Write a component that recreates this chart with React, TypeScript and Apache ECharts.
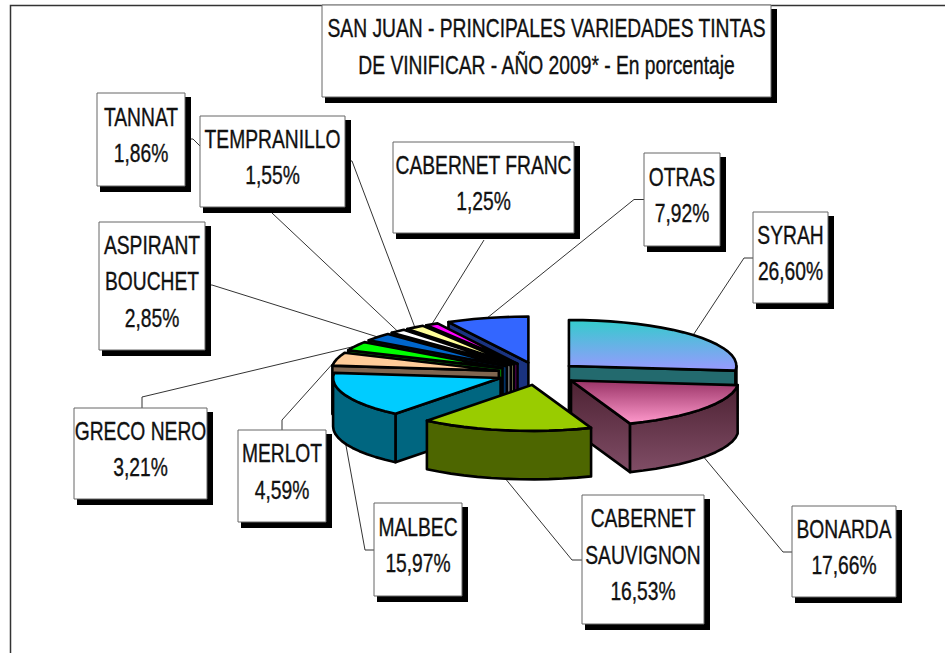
import React, { useEffect, useRef } from "react";
import * as echarts from "echarts";

const TITLE_TEXT = "SAN JUAN - PRINCIPALES VARIEDADES TINTAS\nDE VINIFICAR - AÑO 2009* - En porcentaje";
const VARIETIES = ["SYRAH", "BONARDA", "CABERNET\nSAUVIGNON", "MALBEC", "MERLOT", "GRECO NERO", "ASPIRANT\nBOUCHET", "TEMPRANILLO", "TANNAT", "CABERNET FRANC", "OTRAS"];
const SHARES = [26.6, 17.66, 16.53, 15.97, 4.59, 3.21, 2.85, 1.55, 1.86, 1.25, 7.92];

// styles, one per variety
const TOP_FILLS: any[] = [
  { c: ["#33cccc", "#9999ff"] }, { c: ["#993366", "#ff99cc"] }, "#99cc00", "#00ccff", "#ffcc99", "#00ff00", "#0066cc", "#ffffff", "#ffff99", "#ff00ff", "#3366ff",
];
const WALL_FILLS: any[] = [
  "#236a6e", { c: ["#4d2233", "#804d66"] }, "#4d6600", "#006680", "#806650", "#008000", "#003366", "#808080", "#80804d", "#800080", "#1a3380",
];

// layout: [x1, y1, x2, y2] of each label box, elbow points of each leader
const BOXES = [
  [753, 212, 828, 303], [792, 506, 896, 597], [582, 495, 704, 624], [374, 503, 462, 596], [238, 430, 326, 522], [74, 408, 207, 499],
  [99, 222, 205, 350], [200, 116, 345, 207], [97, 93, 185, 186], [393, 142, 574, 233], [644, 153, 720, 246],
];
const TITLE_BOX = [322, 5, 771, 97];
const ELBOWS = [
  [[753, 258], [744, 258]], [[792, 552], [783, 552]], [[582, 560], [572, 560]], [[374, 550], [365, 550]], [[282, 430], [282, 420]], [[142, 408], [142, 397]],
  [[205, 285], [212, 285]], [[272, 213]], [[185, 139], [193, 139], [200, 146], [352, 161]], [[484, 240]], [[644, 199.5], [634, 199.5]],
];

const CX = 538.5, CY = 373.6, RX = 167.5, RY = 46, DEPTH = 48.5, EX = 41, EY = 11.4;
const FONT = '"Liberation Sans", Arial, sans-serif';
const NARROW = 0.77;
const rad = (a: number) => (a * Math.PI) / 180;

const total = SHARES.reduce((s, v) => s + v, 0);
let acc = 0;
const SLICES = SHARES.map((v, i) => {
  const a0 = (acc / total) * 360;
  acc += v;
  const a1 = (acc / total) * 360;
  const mid = (a0 + a1) / 2;
  return { i, a0, a1, mid, ax: CX + EX * Math.sin(rad(mid)), ay: CY - EY * Math.cos(rad(mid)) };
});
const DRAW_ORDER = [...SLICES].sort((p, q) => p.ay - q.ay);

const rim = (s: any, a: number, drop = 0): number[] => [s.ax + RX * Math.sin(rad(a)), s.ay - RY * Math.cos(rad(a)) + drop];
const arc = (s: any, from: number, to: number, drop = 0) => {
  const n = Math.max(1, Math.ceil((to - from) / 5));
  const out: number[][] = [];
  for (let k = 0; k <= n; k++) out.push(rim(s, from + ((to - from) * k) / n, drop));
  return out;
};
const fill = (f: any) =>
  typeof f === "string"
    ? f
    : { type: "linear", x: 0, y: 0, x2: 0, y2: 1, global: false, colorStops: [{ offset: 0, color: f.c[0] }, { offset: 1, color: f.c[1] }] };
const edge = { stroke: "#000", lineWidth: 2.6, lineJoin: "round" };

function sliceShape(s: any) {
  const wall = fill(WALL_FILLS[s.i]);
  const kids: any[] = [];
  const radial = (a: number) => {
    const p = rim(s, a);
    kids.push({
      type: "polygon",
      shape: { points: [[s.ax, s.ay], p, [p[0], p[1] + DEPTH], [s.ax, s.ay + DEPTH]] },
      style: { fill: wall, ...edge },
    });
  };
  if (Math.sin(rad(s.a0)) < -1e-6) radial(s.a0);
  if (Math.sin(rad(s.a1)) > 1e-6) radial(s.a1);
  const from = Math.max(s.a0, 90), to = Math.min(s.a1, 270);
  if (to > from) {
    kids.push({
      type: "polygon",
      shape: { points: [...arc(s, from, to), ...arc(s, from, to, DEPTH).reverse()] },
      style: { fill: wall, ...edge },
    });
  }
  kids.push({
    type: "polygon",
    shape: { points: [[s.ax, s.ay], ...arc(s, s.a0, s.a1)] },
    style: { fill: fill(TOP_FILLS[s.i]), ...edge },
  });
  return { type: "group", children: kids };
}

function leaderShape(s: any) {
  const front = s.mid > 90 && s.mid < 270;
  const end = rim(s, s.mid, front ? DEPTH : 0);
  return {
    type: "polyline",
    shape: { points: [...ELBOWS[s.i], end] },
    style: { fill: "none", stroke: "#333", lineWidth: 1 },
  };
}

function boxShape(box: number[], text: string) {
  const [x1, y1, x2, y2] = box;
  return {
    type: "group",
    children: [
      { type: "rect", shape: { x: x1 + 3, y: y1 + 4, width: x2 - x1 + 3, height: y2 - y1 + 2 }, style: { fill: "#000" } },
      { type: "rect", shape: { x: x1, y: y1, width: x2 - x1, height: y2 - y1 }, style: { fill: "#fff", stroke: "#666", lineWidth: 1 } },
      {
        type: "text",
        x: (x1 + x2) / 2,
        y: (y1 + y2) / 2 - 4,
        scaleX: NARROW,
        style: {
          text, x: 0, y: 0, align: "center", verticalAlign: "middle",
          font: `25px ${FONT}`, fill: "#111", stroke: "#111", lineWidth: 0.35, lineHeight: 36.5,
        },
      },
    ],
  };
}
const labelText = (i: number) => `${VARIETIES[i]}\n${SHARES[i].toFixed(2).replace(".", ",")}%`;

export default function App() {
  const ref = useRef<HTMLDivElement>(null);
  useEffect(() => {
    const chart = echarts.init(ref.current!, undefined, { renderer: "svg" });
    chart.setOption({
      animation: false,
      backgroundColor: "#fff",
      graphic: [
        { type: "polyline", z: 0, shape: { points: [[10.5, 660], [10.5, 5.5], [950, 5.5]] }, style: { fill: "none", stroke: "#333", lineWidth: 1.5 } },
      ],
      series: [
        {
          type: "custom", coordinateSystem: "none", silent: true, z: 2,
          data: SLICES.map((s) => [s.i, SHARES[s.i]]),
          renderItem: (p: any) => leaderShape(SLICES[p.dataIndex]),
        },
        {
          type: "custom", coordinateSystem: "none", silent: true, z: 3,
          data: DRAW_ORDER.map((s) => [s.i, SHARES[s.i]]),
          renderItem: (p: any) => sliceShape(DRAW_ORDER[p.dataIndex]),
        },
        {
          type: "custom", coordinateSystem: "none", silent: true, z: 4,
          data: [...SLICES.map((s) => [s.i, SHARES[s.i]]), [SLICES.length, 0]],
          renderItem: (p: any) =>
            p.dataIndex === SLICES.length ? boxShape(TITLE_BOX, TITLE_TEXT) : boxShape(BOXES[p.dataIndex], labelText(p.dataIndex)),
        },
      ],
    });
    return () => chart.dispose();
  }, []);
  return <div ref={ref} style={{ position: "absolute", left: 0, top: 0, width: 945, height: 653 }} />;
}
